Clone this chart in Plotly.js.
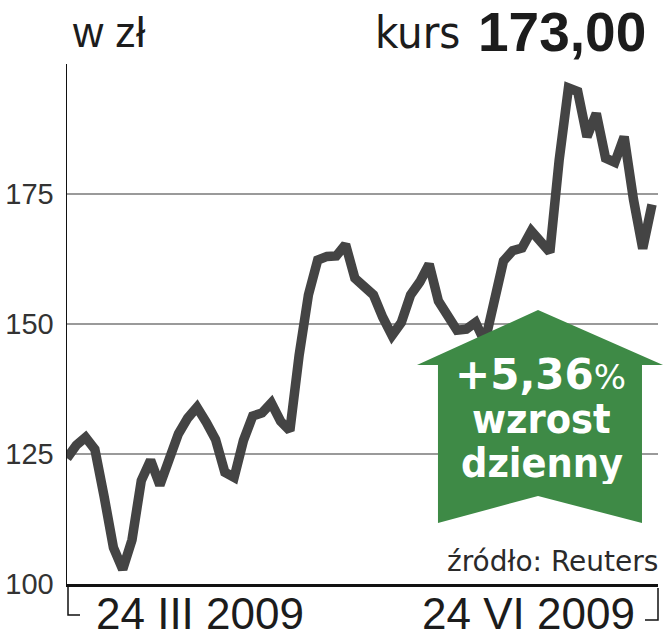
<!DOCTYPE html>
<html><head><meta charset="utf-8">
<script src="https://cdn.plot.ly/plotly-3.0.1.min.js"></script>
<style>html,body{margin:0;padding:0;background:#fff}#chart{width:664px;height:640px}</style>
</head><body><div id="chart"></div>
<script>
// Daily closing prices, 24 III 2009 – 24 VI 2009 (zł)
const closePrices = [124.2,126.7,128.2,125.9,116.8,107.0,102.8,108.5,119.9,123.8,
  119.0,123.5,128.9,131.9,134.0,131.1,127.8,121.5,120.5,127.6,
  132.3,132.9,134.8,131.3,129.5,144.0,155.6,162.3,163.0,163.1,
  165.3,158.8,157.3,155.6,151.3,147.8,150.3,155.6,158.1,161.5,
  154.4,151.9,148.8,149.0,150.3,146.5,154.8,162.1,164.1,164.6,
  167.9,166.1,163.8,181.5,195.4,194.7,186.0,190.5,181.9,181.1,
  186.0,174.0,164.5,173.0];
const yTickValues = [100, 125, 150, 175];
const yTickLabels = ['100', '125', '150', '175'];
const xTickLabels = ['24 III 2009', '24 VI 2009'];
const unitLabel = 'w zł';
const lastLabel = 'kurs';
const lastValue = '173,00';
const changeValue = '+5,36';
const changeLines = ['wzrost', 'dzienny'];
const sourceLabel = 'źródło: Reuters';

const W = 664, H = 640, L = 67, R = 6, T = 64, B = 56;
const pw = W - L - R, ph = H - T - B;
const px = x => (x - L) / pw;
const py = y => (H - B - y) / ph;
const days = closePrices.map((_, i) => i);
const xMax = (closePrices.length - 1) * 591 / 585;
const xTickPos = [14.3, 49.65];

const cond = 'DejaVu Sans Condensed, Liberation Sans Narrow, sans-serif';
const sans = 'Liberation Sans, Arial, sans-serif';
const ink = '#1c1c1c';
const green = '#3e8a46';

const arrowPts = [[417,365],[538,310],[663,365],[642,365],[642,523],[538,496],[438,523],[438,365]];
const arrowPath = 'M ' + arrowPts.map(p => px(p[0]).toFixed(4) + ' ' + py(p[1]).toFixed(4)).join(' L ') + ' Z';

const data = [{
  type: 'scatter', mode: 'lines', x: days, y: closePrices,
  line: {color: '#444444', width: 9.5, shape: 'linear'},
  hoverinfo: 'skip'
}];

const annotations = [
  {xref: 'paper', yref: 'paper', x: px(70), y: py(32), xanchor: 'left', yanchor: 'middle',
   text: unitLabel, showarrow: false, font: {family: sans, size: 42, color: ink}},
  {xref: 'paper', yref: 'paper', x: px(462), y: py(32), xanchor: 'right', yanchor: 'middle',
   text: lastLabel, showarrow: false, font: {family: cond, size: 45, color: ink}},
  {xref: 'paper', yref: 'paper', x: px(648), y: py(32), xanchor: 'right', yanchor: 'middle',
   text: '<b>' + lastValue + '</b>', showarrow: false, font: {family: sans, size: 55, color: ink}},
  {xref: 'paper', yref: 'paper', x: px(540), y: py(374), xanchor: 'center', yanchor: 'middle',
   height: 42,
   text: '<b>' + changeValue + '</b><span style="font-size:34px">%</span>', showarrow: false,
   font: {family: 'DejaVu Sans, sans-serif', size: 42, color: '#ffffff'}},
  {xref: 'paper', yref: 'paper', x: px(541), y: py(419), xanchor: 'center', yanchor: 'middle',
   height: 42,
   text: '<b>' + changeLines[0] + '</b>', showarrow: false,
   font: {family: cond, size: 41, color: '#ffffff'}},
  {xref: 'paper', yref: 'paper', x: px(542), y: py(463), xanchor: 'center', yanchor: 'middle',
   height: 42,
   text: '<b>' + changeLines[1] + '</b>', showarrow: false,
   font: {family: cond, size: 41, color: '#ffffff'}},
  {xref: 'paper', yref: 'paper', x: px(660), y: py(561), xanchor: 'right', yanchor: 'middle',
   text: sourceLabel, showarrow: false, font: {family: 'DejaVu Sans, sans-serif', size: 28, color: '#2a2a2a'}}
];
xTickLabels.forEach((lab, k) => annotations.push({
  xref: 'x', yref: 'paper', x: xTickPos[k], y: py(613), xanchor: 'center', yanchor: 'middle',
  height: 44, text: lab, showarrow: false, font: {family: sans, size: 44, color: ink}
}));

const layout = {
  width: W, height: H,
  margin: {l: L, r: R, t: T, b: B, pad: 0},
  paper_bgcolor: '#ffffff', plot_bgcolor: '#ffffff',
  showlegend: false,
  xaxis: {
    range: [0, xMax], showgrid: false, zeroline: false,
    showline: true, linecolor: '#111', linewidth: 3,
    showticklabels: false, ticks: '', fixedrange: true
  },
  yaxis: {
    range: [100, 200], showgrid: true, gridcolor: '#9a9a9a', gridwidth: 1.5,
    zeroline: false, showline: true, linecolor: '#111', linewidth: 1.5,
    tickvals: yTickValues, ticktext: yTickLabels, ticks: '',
    tickfont: {family: sans, size: 29, color: '#333333'},
    ticklabelstandoff: 6, fixedrange: true
  },
  shapes: [
    {type: 'path', xref: 'paper', yref: 'paper', path: arrowPath,
     fillcolor: green, line: {width: 0}, layer: 'above'},
    {type: 'path', xref: 'paper', yref: 'paper',
     path: `M ${px(68)} ${py(584)} L ${px(68)} ${py(615)} L ${px(80)} ${py(615)}`,
     line: {color: '#111', width: 1.5}},
    {type: 'path', xref: 'paper', yref: 'paper',
     path: `M ${px(658)} ${py(588)} L ${px(658)} ${py(620)} L ${px(645)} ${py(620)}`,
     line: {color: '#111', width: 1.5}}
  ],
  annotations: annotations
};

Plotly.newPlot('chart', data, layout, {staticPlot: true, displayModeBar: false});
</script></body></html>
